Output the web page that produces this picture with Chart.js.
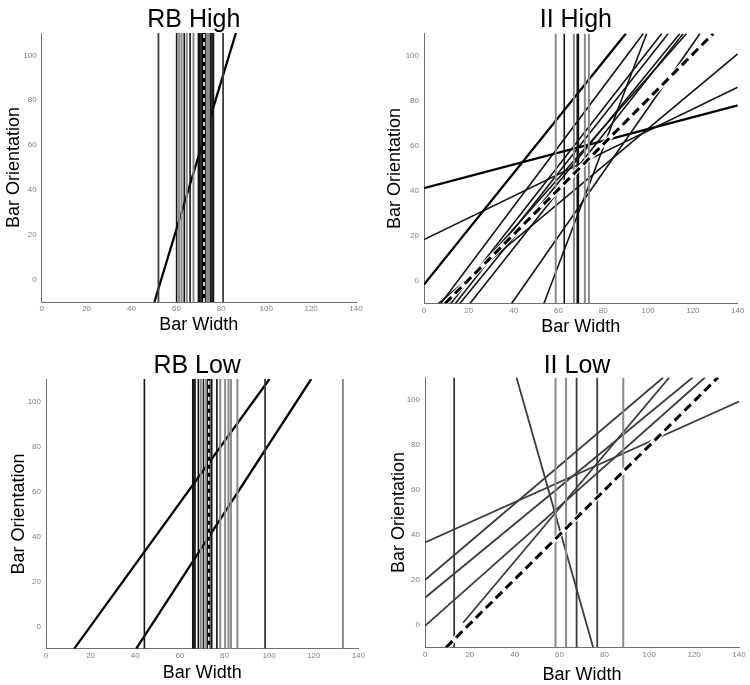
<!DOCTYPE html>
<html><head><meta charset="utf-8">
<script src="https://cdn.jsdelivr.net/npm/chart.js@4.4.1/dist/chart.umd.min.js"></script>
<style>
html,body{margin:0;padding:0;background:#fff;}
#wrap{position:relative;width:750px;height:685px;overflow:hidden;background:#fff;}
canvas{position:absolute;}
</style></head><body><div id="wrap">
<canvas id="c1" width="375" height="342" style="left:0;top:0"></canvas>
<canvas id="c2" width="375" height="342" style="left:375px;top:0"></canvas>
<canvas id="c3" width="375" height="345" style="left:0;top:340px"></canvas>
<canvas id="c4" width="375" height="345" style="left:375px;top:340px"></canvas>
</div>
<script>
// ---------- DATA ----------
const X_TICKS = [0, 20, 40, 60, 80, 100, 120, 140];
const Y_TICKS = [0, 20, 40, 60, 80, 100];
const X_MIN = 0, X_MAX = 140, Y_MIN = -10, Y_MAX = 110;

// vertical boundaries: x value (Bar Width)
const rbHighVertical = [52.0, 60.1, 61.2, 62.3, 63.5, 64.6, 66.1, 67.6, 69.8, 70.4, 71.0, 71.6, 73.4, 74.0, 74.6, 75.3, 75.9, 76.5, 80.8];
// sloped boundaries: [x1, y1, x2, y2]
const rbHighSloped = [[50.2, -10, 86.5, 110]];
const rbHighDashed = [[72.3, -10, 72.3, 110]];

const iiHighVertical = [58.8, 62.6, 66.9, 68.4, 68.9, 71.8, 73.6];
const iiHighSloped = [
  [0, 41.3, 140, 78.1],
  [0, 18.4, 140, 86.1],
  [0, -1.6, 90.1, 110],
  [6.4, -10, 140, 100.9],
  [7.5, -10, 97.9, 110],
  [12.0, -10, 106.1, 110],
  [10.5, -10, 117.2, 110],
  [14.0, -10, 109.0, 110],
  [16.0, -10, 114.2, 110],
  [20.5, -10, 115.7, 110],
  [39.1, -10, 123.2, 110],
  [53.5, -10, 99.4, 110]
];
const iiHighDashed = [[9.4, -10, 129.1, 110]];

const rbLowVertical = [44.1, 65.8, 66.3, 66.8, 68.3, 69.4, 70.6, 71.8, 74.3, 76.6, 78.1, 80.3, 81.8, 82.9, 85.8, 98.2, 133.1];
const rbLowSloped = [[12.6, -10, 100.2, 110], [40.4, -10, 118.9, 110]];
const rbLowDashed = [[73.0, -10, 73.0, 110]];

const iiLowVertical = [13.0, 58.2, 62.9, 67.6, 76.8, 88.4];
const iiLowSloped = [
  [0, 36.7, 140, 99.3],
  [0, 20.0, 106.2, 110],
  [0, 12.1, 119.3, 110],
  [0, -0.4, 124.8, 110],
  [17.0, 1.0, 108.9, 110],
  [40.8, 110, 75.0, -10]
];
const iiLowDashed = [[9.4, -10, 130.6, 110]];

// ---------- STYLES ----------
const FONT = '"Liberation Sans", Arial, Helvetica, sans-serif';
const SHADE = {k: '#141414', K: '#000000', g: '#8a8a8a', d: '#3c3c3c'};
const WIDTH = {k: 1.6, K: 2.3, g: 2.0, d: 1.8};
const rbHighVShade = ['d','k','g','g','k','g','k','g','k','k','k','k','g','g','g','k','k','k','d'];
const rbHighSShade = ['K'];
const iiHighVShade = ['g','k','g','k','k','g','g'];
const iiHighSShade = ['K','k','K','k','k','k','k','k','k','k','k','k'];
const rbLowVShade = ['k','k','k','k','k','g','k','g','k','k','g','g','g','g','g','d','g'];
const rbLowSShade = ['K','K'];
const iiLowVShade = ['d','g','g','d','d','g'];
const iiLowSShade = ['d','d','d','d','d','d'];

function seg(p) { return [{x: p[0], y: p[1]}, {x: p[2], y: p[3]}]; }
function line(data, color, width, dash) {
  return {data, borderColor: color, borderWidth: width, borderDash: dash || [],
    showLine: true, pointRadius: 0, pointHoverRadius: 0, fill: false, tension: 0, clip: 0};
}
function datasets(p) {
  const list = []; // bottom -> top
  p.sloped.forEach((s, i) => list.push(line(seg(s), SHADE[p.sShade[i]], WIDTH[p.sShade[i]])));
  p.vertical.forEach((x, i) => list.push(line(seg([x, Y_MIN, x, Y_MAX]), SHADE[p.vShade[i]], WIDTH[p.vShade[i]])));
  p.dashed.forEach(s => {
    if (p.kind === 'rb') {
      list.push(line(seg(s), '#000', 3.5));
      list.push(line(seg(s), '#fff', 1.6, [4, 4]));
    } else {
      list.push(line(seg(s), '#fff', 5));
      list.push(line(seg(s), '#000', 3, [9, 5]));
    }
  });
  return list.reverse(); // Chart.js draws index 0 last (on top)
}

const panelTitle = {
  id: 'panelTitle',
  afterDraw(chart, args, o) {
    const {ctx, chartArea} = chart;
    ctx.save();
    ctx.font = `normal ${o.size}px ${FONT}`;
    ctx.fillStyle = '#000';
    ctx.textAlign = 'center';
    ctx.textBaseline = 'alphabetic';
    ctx.fillText(o.text, (chartArea.left + chartArea.right) / 2 + o.dx, o.baseline);
    ctx.restore();
  }
};

function makeChart(id, p) {
  const tickFont = {size: 8, family: FONT};
  new Chart(document.getElementById(id), {
    type: 'scatter',
    data: {datasets: datasets(p)},
    plugins: [panelTitle],
    options: {
      responsive: false, animation: false, devicePixelRatio: 1,
      events: [],
      layout: {padding: {left: 0, top: p.top, right: p.right, bottom: 0}},
      plugins: {legend: {display: false}, tooltip: {enabled: false}, title: {display: false},
        panelTitle: {text: p.title, size: 25, baseline: p.titleBase, dx: -5}},
      scales: {
        x: {type: 'linear', min: X_MIN, max: X_MAX,
          afterBuildTicks: s => { s.ticks = X_TICKS.map(v => ({value: v})); },
          afterFit: s => { s.height = p.xH; },
          grid: {display: true, drawOnChartArea: false, drawTicks: false},
          border: {display: true, color: '#6f6f6f', width: 1},
          ticks: {font: tickFont, color: '#808080', padding: 2, maxRotation: 0, autoSkip: false},
          title: {display: true, text: 'Bar Width', color: '#000',
            font: {size: 18, family: FONT, lineHeight: 1}, padding: {top: 0, bottom: p.xPad}}},
        y: {type: 'linear', min: Y_MIN, max: Y_MAX,
          afterBuildTicks: s => { s.ticks = Y_TICKS.map(v => ({value: v})); },
          afterFit: s => { s.width = p.yW; },
          grid: {display: true, drawOnChartArea: false, drawTicks: false},
          border: {display: true, color: '#6f6f6f', width: 1},
          ticks: {font: tickFont, color: '#808080', padding: 5, autoSkip: false},
          title: {display: true, text: 'Bar Orientation', color: '#000',
            font: {size: 18, family: FONT, lineHeight: 1}, padding: {top: p.yPad, bottom: 0}}}
      }
    }
  });
}

makeChart('c1', {kind: 'rb', title: 'RB High', vertical: rbHighVertical, vShade: rbHighVShade,
  sloped: rbHighSloped, sShade: rbHighSShade, dashed: rbHighDashed,
  top: 33, right: 19, yW: 41.7, xH: 40, xPad: 7.5, yPad: 4.8, titleBase: 26.7});
makeChart('c2', {kind: 'ii', title: 'II High', vertical: iiHighVertical, vShade: iiHighVShade,
  sloped: iiHighSloped, sShade: iiHighSShade, dashed: iiHighDashed,
  top: 33.5, right: 12.3, yW: 49, xH: 38.5, xPad: 5.9, yPad: 11.5, titleBase: 26.5});
makeChart('c3', {kind: 'rb', title: 'RB Low', vertical: rbLowVertical, vShade: rbLowVShade,
  sloped: rbLowSloped, sShade: rbLowSShade, dashed: rbLowDashed,
  top: 39, right: 16.7, yW: 46, xH: 36.2, xPad: 2.9, yPad: 9.8, titleBase: 33.3});
makeChart('c4', {kind: 'ii', title: 'II Low', vertical: iiLowVertical, vShade: iiLowVShade,
  sloped: iiLowSloped, sShade: iiLowSShade, dashed: iiLowDashed,
  top: 37.5, right: 11, yW: 50, xH: 37.5, xPad: 0.5, yPad: 14.8, titleBase: 33.3});
</script>
</body></html>
